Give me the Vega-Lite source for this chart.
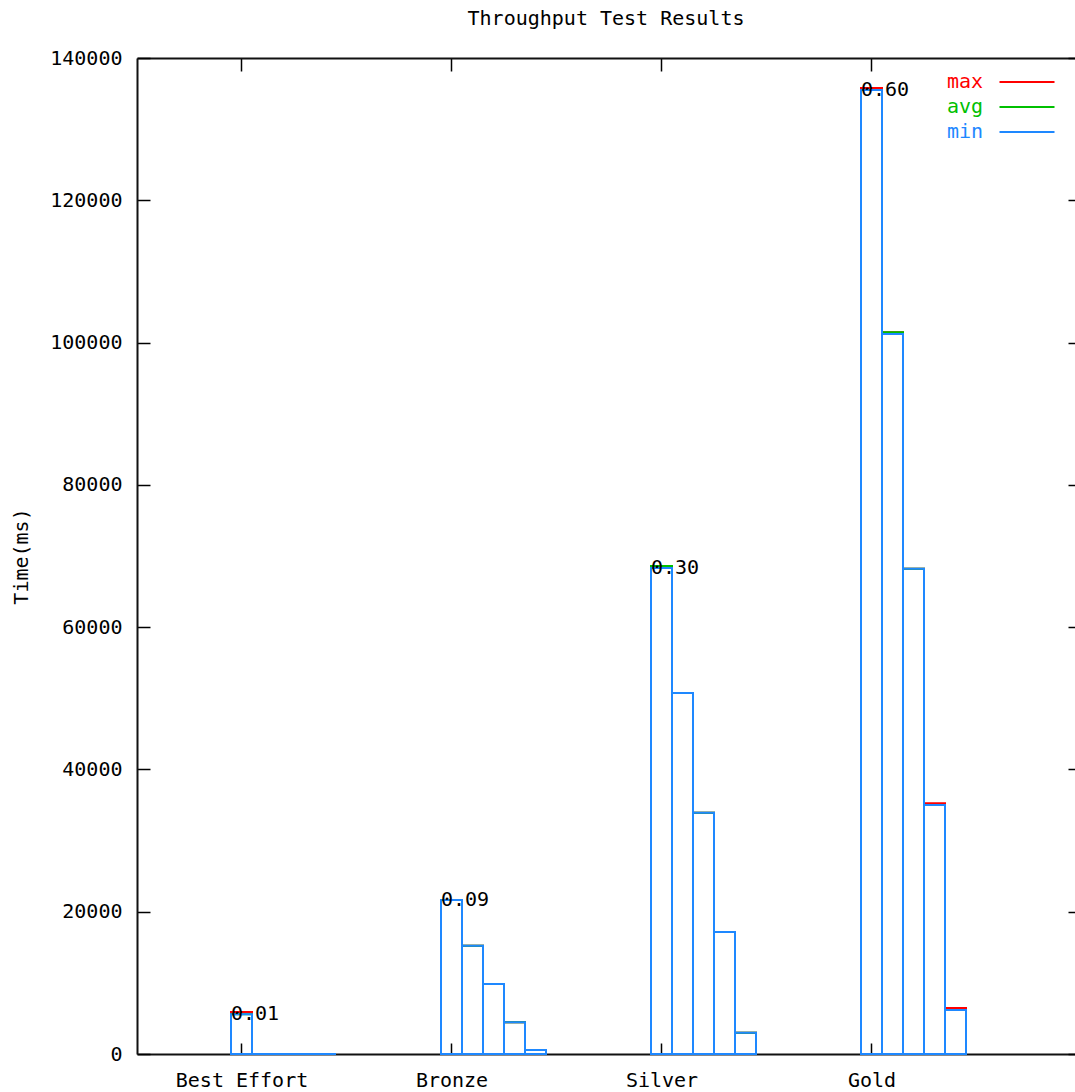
{
  "$schema": "https://vega.github.io/schema/vega-lite/v6.json",
  "width": 938,
  "height": 996,
  "autosize": {"type": "none"},
  "padding": {"left": 137, "top": 58, "right": 0, "bottom": 38},
  "background": "white",
  "title": {"text": "Throughput Test Results", "font": "DejaVu Sans Mono", "fontSize": 20, "fontWeight": "normal", "color": "#000", "anchor": "middle", "baseline": "alphabetic", "offset": 33, "dy": 30},
  "config": {"view": {"stroke": null}, "font": "DejaVu Sans Mono"},
  "data": {"values": [
    {"group": "Best Effort", "level": 1, "series": "max", "value": 5900},
    {"group": "Best Effort", "level": 2, "series": "max", "value": 0},
    {"group": "Best Effort", "level": 3, "series": "max", "value": 0},
    {"group": "Best Effort", "level": 4, "series": "max", "value": 0},
    {"group": "Best Effort", "level": 5, "series": "max", "value": 0},
    {"group": "Bronze", "level": 1, "series": "max", "value": 21650},
    {"group": "Bronze", "level": 2, "series": "max", "value": 15200},
    {"group": "Bronze", "level": 3, "series": "max", "value": 9850},
    {"group": "Bronze", "level": 4, "series": "max", "value": 4450},
    {"group": "Bronze", "level": 5, "series": "max", "value": 560},
    {"group": "Silver", "level": 1, "series": "max", "value": 68600},
    {"group": "Silver", "level": 2, "series": "max", "value": 50750},
    {"group": "Silver", "level": 3, "series": "max", "value": 33900},
    {"group": "Silver", "level": 4, "series": "max", "value": 17150},
    {"group": "Silver", "level": 5, "series": "max", "value": 2990},
    {"group": "Gold", "level": 1, "series": "max", "value": 135800},
    {"group": "Gold", "level": 2, "series": "max", "value": 101450},
    {"group": "Gold", "level": 3, "series": "max", "value": 68200},
    {"group": "Gold", "level": 4, "series": "max", "value": 35250},
    {"group": "Gold", "level": 5, "series": "max", "value": 6450},
    {"group": "Best Effort", "level": 1, "series": "avg", "value": 5600},
    {"group": "Best Effort", "level": 2, "series": "avg", "value": 0},
    {"group": "Best Effort", "level": 3, "series": "avg", "value": 0},
    {"group": "Best Effort", "level": 4, "series": "avg", "value": 0},
    {"group": "Best Effort", "level": 5, "series": "avg", "value": 0},
    {"group": "Bronze", "level": 1, "series": "avg", "value": 21650},
    {"group": "Bronze", "level": 2, "series": "avg", "value": 15200},
    {"group": "Bronze", "level": 3, "series": "avg", "value": 9850},
    {"group": "Bronze", "level": 4, "series": "avg", "value": 4450},
    {"group": "Bronze", "level": 5, "series": "avg", "value": 560},
    {"group": "Silver", "level": 1, "series": "avg", "value": 68600},
    {"group": "Silver", "level": 2, "series": "avg", "value": 50750},
    {"group": "Silver", "level": 3, "series": "avg", "value": 33900},
    {"group": "Silver", "level": 4, "series": "avg", "value": 17150},
    {"group": "Silver", "level": 5, "series": "avg", "value": 2990},
    {"group": "Gold", "level": 1, "series": "avg", "value": 135500},
    {"group": "Gold", "level": 2, "series": "avg", "value": 101450},
    {"group": "Gold", "level": 3, "series": "avg", "value": 68200},
    {"group": "Gold", "level": 4, "series": "avg", "value": 35000},
    {"group": "Gold", "level": 5, "series": "avg", "value": 6200},
    {"group": "Best Effort", "level": 1, "series": "min", "value": 5600, "label": "0.01"},
    {"group": "Best Effort", "level": 2, "series": "min", "value": 0},
    {"group": "Best Effort", "level": 3, "series": "min", "value": 0},
    {"group": "Best Effort", "level": 4, "series": "min", "value": 0},
    {"group": "Best Effort", "level": 5, "series": "min", "value": 0},
    {"group": "Bronze", "level": 1, "series": "min", "value": 21650, "label": "0.09"},
    {"group": "Bronze", "level": 2, "series": "min", "value": 15200},
    {"group": "Bronze", "level": 3, "series": "min", "value": 9850},
    {"group": "Bronze", "level": 4, "series": "min", "value": 4450},
    {"group": "Bronze", "level": 5, "series": "min", "value": 560},
    {"group": "Silver", "level": 1, "series": "min", "value": 68300, "label": "0.30"},
    {"group": "Silver", "level": 2, "series": "min", "value": 50750},
    {"group": "Silver", "level": 3, "series": "min", "value": 33900},
    {"group": "Silver", "level": 4, "series": "min", "value": 17150},
    {"group": "Silver", "level": 5, "series": "min", "value": 2990},
    {"group": "Gold", "level": 1, "series": "min", "value": 135500, "label": "0.60"},
    {"group": "Gold", "level": 2, "series": "min", "value": 101200},
    {"group": "Gold", "level": 3, "series": "min", "value": 68200},
    {"group": "Gold", "level": 4, "series": "min", "value": 35000},
    {"group": "Gold", "level": 5, "series": "min", "value": 6200}
  ]},
  "layer": [
    {
      "mark": {"type": "bar", "filled": false, "strokeWidth": 2},
      "encoding": {
        "x": {"field": "group", "type": "nominal",
          "scale": {"type": "band", "domain": ["Best Effort", "Bronze", "Silver", "Gold"], "paddingInner": 0, "paddingOuter": 0.23333333333333, "align": 0.95918367},
          "axis": {"orient": "bottom", "title": null, "labelAngle": 0, "bandPosition": 0.05, "tickSize": -11, "tickColor": "#000", "tickWidth": 1.5, "domainColor": "#111", "domainWidth": 2, "labelFontSize": 20, "labelFont": "DejaVu Sans Mono", "labelColor": "#000", "labelPadding": 27, "labelOffset": -94}},
        "xOffset": {"field": "level", "type": "ordinal", "scale": {"domain": [1, 2, 3, 4, 5, 6, 7, 8, 9, 10], "paddingInner": 0, "paddingOuter": 0}},
        "y": {"field": "value", "type": "quantitative", "stack": null,
          "scale": {"domain": [0, 140000], "nice": false},
          "axis": {"orient": "left", "title": "Time(ms)", "values": [0, 20000, 40000, 60000, 80000, 100000, 120000, 140000], "format": "d", "grid": false, "tickSize": -13, "tickColor": "#000", "tickWidth": 1.5, "domainColor": "#111", "domainWidth": 2, "labelFontSize": 20, "labelFont": "DejaVu Sans Mono", "labelColor": "#000", "labelPadding": 28, "titleFont": "DejaVu Sans Mono", "titleFontSize": 20, "titleFontWeight": "normal", "titleColor": "#000", "titlePadding": 18}},
        "color": {"field": "series", "type": "nominal",
          "scale": {"domain": ["max", "avg", "min"], "range": ["#ff0000", "#00c000", "#1e88ff"]},
          "legend": {"orient": "none", "legendX": 880, "legendY": 14, "title": null, "symbolType": "M-5,0H5", "symbolSize": 121, "symbolStrokeWidth": 2, "labelAlign": "right", "labelOffset": -54, "labelFontSize": 20, "labelFont": "DejaVu Sans Mono", "rowPadding": 5, "padding": 0,
            "labelColor": {"expr": "scale('color', datum.value)"}}}
      }
    },
    {
      "transform": [{"filter": "datum.label != null"}],
      "mark": {"type": "text", "align": "left", "baseline": "middle", "dx": -10.5, "fontSize": 20, "font": "DejaVu Sans Mono", "color": "#000"},
      "encoding": {
        "x": {"field": "group", "type": "nominal",
          "scale": {"type": "band", "domain": ["Best Effort", "Bronze", "Silver", "Gold"], "paddingInner": 0, "paddingOuter": 0.23333333333333, "align": 0.95918367},
          "axis": {"orient": "top", "title": null, "labels": false, "bandPosition": 0.05, "tickSize": -13, "tickColor": "#000", "tickWidth": 1.5, "domainColor": "#111", "domainWidth": 2}},
        "xOffset": {"field": "level", "type": "ordinal", "scale": {"domain": [1, 2, 3, 4, 5, 6, 7, 8, 9, 10], "paddingInner": 0, "paddingOuter": 0}},
        "y": {"field": "value", "type": "quantitative",
          "scale": {"domain": [0, 140000], "nice": false},
          "axis": {"orient": "right", "title": null, "labels": false, "values": [0, 20000, 40000, 60000, 80000, 100000, 120000, 140000], "grid": false, "tickSize": -7, "tickColor": "#000", "tickWidth": 1.5, "domain": false}},
        "text": {"field": "label"}
      }
    }
  ],
  "resolve": {"axis": {"x": "independent", "y": "independent"}}
}
